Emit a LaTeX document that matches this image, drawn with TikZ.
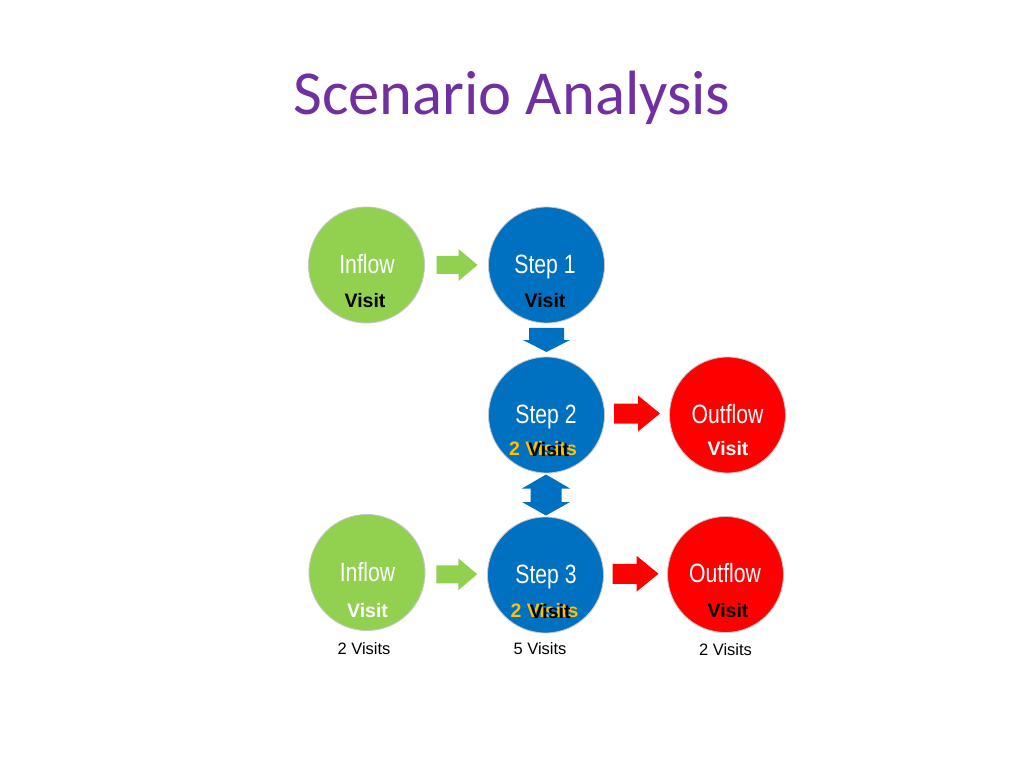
\documentclass[tikz,border=0pt]{standalone}
\usepackage{fontspec}
\setmainfont{Liberation Sans}
\newfontfamily\narrowfont[FakeStretch=0.8]{Liberation Sans}
\newfontfamily\titlefont{Carlito}
\usetikzlibrary{calc}
\definecolor{cgreen}{HTML}{92D050}
\definecolor{cblue}{HTML}{0070C0}
\definecolor{cred}{HTML}{FF0000}
\definecolor{cgold}{HTML}{FFC000}
\definecolor{cpurple}{HTML}{7030A0}
\tikzset{
  ball/.style={circle, minimum size=81.56pt, inner sep=0pt, draw=black!22, line width=0.6pt},
  cname/.style={anchor=base, inner sep=0pt, text=white, font=\narrowfont\fontsize{18.6}{20}\selectfont},
  cvisit/.style={anchor=base, inner sep=0pt, font=\bfseries\fontsize{13.7}{16}\selectfont},
  ccount/.style={anchor=base, inner sep=0pt, font=\fontsize{11.6}{14}\selectfont},
  greenarrow/.pic={\path[pic actions] (-20,-9) -- (2,-9) -- (2,-16) -- (21,0) -- (2,16) -- (2,9) -- (-20,9) -- cycle;},
  redarrow/.pic={\path[pic actions] (-23,-10) -- (1,-10) -- (1,-18) -- (23,0) -- (1,18) -- (1,10) -- (-23,10) -- cycle;},
  downarrow/.pic={\path[pic actions] (-17.5,-12) -- (17.5,-12) -- (17.5,0) -- (23.5,0) -- (0,12) -- (-23.5,0) -- (-17.5,0) -- cycle;},
  updownarrow/.pic={\path[pic actions] (0,-20.5) -- (24,-6.5) -- (15.5,-6.5) -- (15.5,7) -- (24,7) -- (0,20.5) -- (-24,7) -- (-15.5,7) -- (-15.5,-6.5) -- (-24,-6.5) -- cycle;}
}
\begin{document}
\begin{tikzpicture}[x=0.703125pt,y=-0.703125pt]
\useasboundingbox[fill=white] (0,0) rectangle (1024,768);

\node[anchor=base, inner sep=0pt, text=cpurple, font=\titlefont\fontsize{44}{48}\selectfont] (title) at (512,115) {Scenario Analysis};

% circles
\node[ball, fill=cgreen] (in1) at (366.5,265) {};
\node[ball, fill=cblue] (s1) at (546.5,265) {};
\node[ball, fill=cblue] (s2) at (546.5,415) {};
\node[ball, fill=cred] (out1) at (727.5,415) {};
\node[ball, fill=cgreen] (in2) at (367,572.5) {};
\node[ball, fill=cblue] (s3) at (545.5,575) {};
\node[ball, fill=cred] (out2) at (725.5,574.5) {};

% arrows
\pic[fill=cgreen] at ($(in1)!0.5!(s1)$) {greenarrow};
\pic[fill=cgreen] at ($(in2)!0.5!(s3)+(0,0.5)$) {greenarrow};
\pic[fill=cred] at ($(s2.east)!0.5!(out1.west)+(0,-1.5)$) {redarrow};
\pic[fill=cred] at ($(s3.east)!0.5!(out2.west)+(0,-1)$) {redarrow};
\pic[fill=cblue] at ($(s1)!0.5!(s2)$) {downarrow};
\pic[fill=cblue] at ($(s2)!0.5!(s3)$) {updownarrow};

% texts
\node[cname] (in1n) at (367,274) {Inflow};
\node[cvisit] (in1v) at (365,308) {Visit};
\node[cname] (s1n) at (545,274) {Step 1};
\node[cvisit] (s1v) at (545,307) {Visit};
\node[cname] (s2n) at (546,423) {Step 2};
\node[cvisit, text=cgold] (s2v) at (543,455) {2 Visits};
\node[cvisit] (s2vb) at ($(s2v.base)+(3,1)$) {\phantom{2 }Visit\phantom{s}};
\node[cname] (out1n) at (727.5,423) {Outflow};
\node[cvisit, text=white] (out1v) at (728,455) {Visit};

\node[cname] (in2n) at (367.5,581) {Inflow};
\node[cvisit, text=white] (in2v) at (367.5,617) {Visit};
\node[cname] (s3n) at (546,583) {Step 3};
\node[cvisit, text=cgold] (s3v) at (544.5,617) {2 Visits};
\node[cvisit] (s3vb) at ($(s3v.base)+(3,1)$) {\phantom{2 }Visit\phantom{s}};
\node[cname] (out2n) at (725,582) {Outflow};
\node[cvisit] (out2v) at (728,617) {Visit};

\node[ccount] (c1) at (364,654) {2 Visits};
\node[ccount] (c2) at (540,654) {5 Visits};
\node[ccount] (c3) at (725.5,655) {2 Visits};
\end{tikzpicture}
\end{document}
